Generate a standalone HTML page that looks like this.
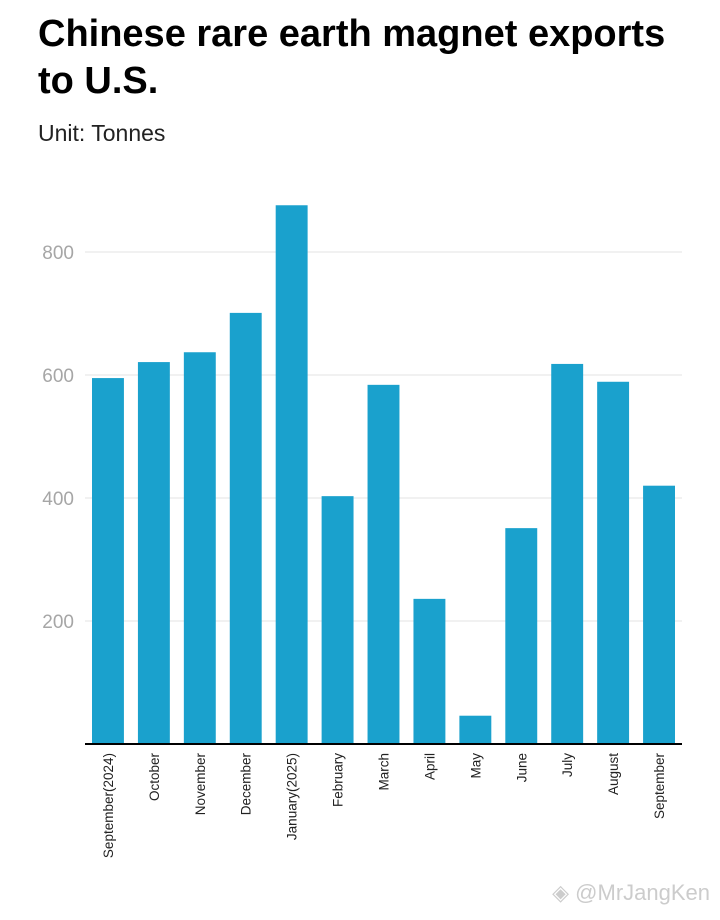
<!DOCTYPE html>
<html><head><meta charset="utf-8"><style>
body{margin:0;background:#fff;width:720px;height:920px;overflow:hidden;font-family:"Liberation Sans",sans-serif}
h1{position:absolute;left:38px;top:11px;margin:0;font-size:38px;line-height:47px;font-weight:bold;color:#000;letter-spacing:0px}
.sub{position:absolute;left:38px;top:120px;font-size:23px;color:#222}
.wm{position:absolute;right:10px;top:880px;font-size:22px;color:#ccc}
</style></head><body>
<h1>Chinese rare earth magnet exports<br>to U.S.</h1>
<div class="sub">Unit: Tonnes</div>
<svg id="chart" width="720" height="920" style="position:absolute;left:0;top:0"></svg>
<div class="wm">◈ @MrJangKen</div>
<script>
const categories=["September(2024)","October","November","December","January(2025)","February","March","April","May","June","July","August","September"];
const values=[595,621,637,701,876,403,584,236,46,351,618,589,420];
const ticks=[200,400,600,800];
const svg=document.getElementById('chart');
const NS='http://www.w3.org/2000/svg';
const x0=85,x1=682,y0=744,pxPer=0.615;
const band=(x1-x0)/categories.length;
const y=v=>y0-v*pxPer;
function mk(t,a){const e=document.createElementNS(NS,t);for(const k in a)e.setAttribute(k,a[k]);svg.appendChild(e);return e;}
ticks.forEach(t=>{
 const g=mk('line',{x1:x0,x2:x1,y1:y(t),y2:y(t),stroke:'#e3e3e3','stroke-width':1});
 
 
 const l=mk('text',{x:74,y:y(t)+7,'text-anchor':'end','font-size':19,fill:'#a6a6a6','font-family':'Liberation Sans, sans-serif'});
 l.textContent=t;
 
 
});
categories.forEach((c,i)=>{
 const bx=x0+i*band+7,bw=band-14;
 const r=mk('rect',{x:bx,y:y(values[i]),width:bw,height:values[i]*pxPer,fill:'#1aa1cd'});
 
 
 const cx=x0+i*band+band/2+5;
 const t=mk('text',{x:cx,y:753,transform:`rotate(-90 ${cx} 753)`,'text-anchor':'end','font-size':13.5,fill:'#222','font-family':'Liberation Sans, sans-serif'});
 t.textContent=c;
 
 
});
const ax=mk('line',{x1:x0,x2:x1,y1:y0,y2:y0,stroke:'#000','stroke-width':2});


</script>
</body></html>
